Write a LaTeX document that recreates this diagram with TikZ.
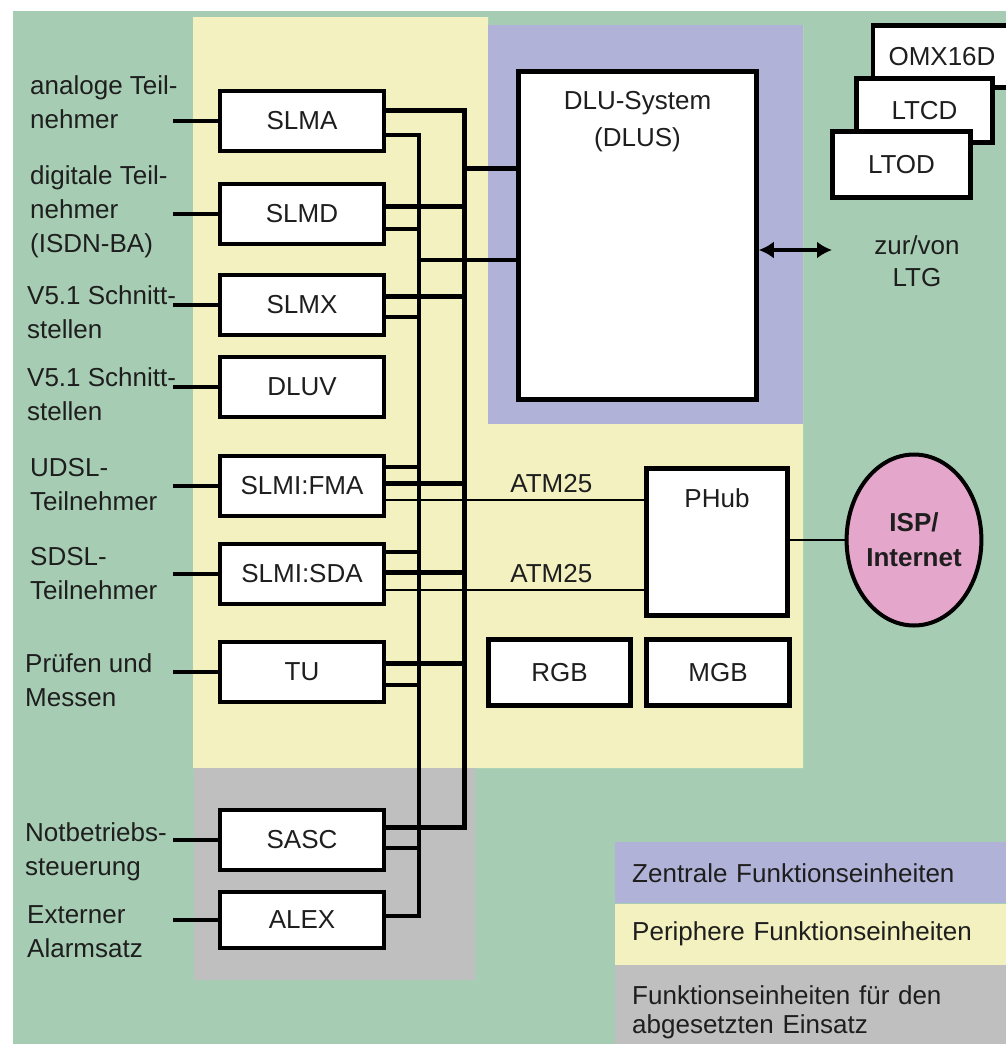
\documentclass[tikz,border=0pt]{standalone}
\usepackage{fontspec}
\setmainfont{Liberation Sans}
\usepackage{xcolor}
\usepackage{tikz}
\usetikzlibrary{arrows.meta,positioning,calc,shapes.geometric}
\definecolor{Field}{HTML}{A6CDB3}
\definecolor{Zentral}{HTML}{B1B2D8}
\definecolor{Periph}{HTML}{F2F1BF}
\definecolor{Remote}{HTML}{BFBFBF}
\definecolor{Isp}{HTML}{E5A6CB}
\definecolor{Ink}{HTML}{1E1E1E}
\tikzset{
  unit/.style={
    draw=black, line width=4.5pt, fill=white, minimum width=164pt,
    minimum height=60pt, inner sep=0pt, text=Ink,
    font=\fontsize{26}{30}\selectfont
  },
  head/.style={anchor=north, inner sep=0pt, yshift=-22pt, align=center,
    text=Ink, font=\fontsize{26}{37}\selectfont},
  side/.style={anchor=base west, align=left, inner sep=0pt, text=Ink,
    font=\fontsize{26}{34}\selectfont},
  tag/.style={inner sep=0pt, text=Ink, font=\fontsize{26}{30}\selectfont},
  legend/.style={
    anchor=north west, minimum height=61pt, text width=357pt,
    inner xsep=17pt, inner ysep=0pt, align=left, text=Ink,
    font=\fontsize{26}{29}\selectfont
  },
  busThick/.style={line width=5pt,draw=black},
  busThin/.style={line width=3.5pt,draw=black},
  feed/.style={line width=3.5pt,draw=black},
  atm/.style={line width=2.5pt,draw=black},
  link/.style={{Latex[length=15pt,width=17pt]}-{Latex[length=15pt,width=17pt]},
    line width=3.5pt,draw=black}
}

\begin{document}
\begin{tikzpicture}[x=1pt,y=-1pt]
  \useasboundingbox (0,0) rectangle (1006,1044);
  % areas
  \fill[Field] (13,11) rectangle (1006,1044);
  \fill[Periph] (193,17) -- (488,17) -- (488,25) -- (803,25) -- (803,768) -- (193,768) -- cycle;
  \fill[Zentral] (488,25) rectangle (803,424);
  \fill[Remote] (194,768) rectangle (475,980);

  % legend
  \node[legend,fill=Zentral] (lgZ) at (615,842) {Zentrale Funktionseinheiten};
  \node[legend,fill=Periph,below=0pt of lgZ] (lgP) {Periphere Funktionseinheiten};
  \node[legend,fill=Remote,minimum height=95pt,below=0pt of lgP] (lgR) {Funktionseinheiten für den\\abgesetzten Einsatz};

  % line units
  \node[unit] (slma) at (302,121) {SLMA};
  \node[unit] (slmd) at (302,214) {SLMD};
  \node[unit] (slmx) at (302,305) {SLMX};
  \node[unit] (dluv) at (302,387) {DLUV};
  \node[unit] (fma) at (302,486) {SLMI:FMA};
  \node[unit] (sda) at (302,574) {SLMI:SDA};
  \node[unit] (tu) at (302,672) {TU};
  \node[unit] (sasc) at (302,840) {SASC};
  \node[unit,minimum height=56pt] (alex) at (302,920) {ALEX};

  % subscribers (base = last line)
  \node[side] (lblA) at (30,128) {analoge Teil-\\nehmer};
  \node[side] (lblD) at (30,252) {digitale Teil-\\nehmer\\(ISDN-BA)};
  \node[side] (lblX) at (27,338) {V5.1 Schnitt-\\stellen};
  \node[side] (lblV) at (27,420) {V5.1 Schnitt-\\stellen};
  \node[side] (lblF) at (30,510) {UDSL-\\Teilnehmer};
  \node[side] (lblS) at (30,599) {SDSL-\\Teilnehmer};
  \node[side] (lblT) at (25,706) {Prüfen und\\Messen};
  \node[side] (lblN) at (25,875) {Notbetriebs-\\steuerung};
  \node[side] (lblE) at (27,957) {Externer\\Alarmsatz};

  \coordinate (inX) at (173,0);
  \foreach \n in {slma,slmd,slmx,dluv,fma,sda,tu,sasc,alex}
    \draw[feed] (\n.west -| inX) -- (\n.west);

  % central part
  \node[unit,minimum width=238pt,minimum height=328pt,
    label={[head,name=dlusTxt]north:{DLU-System\\(DLUS)}}] (dlus) at (637.5,235.5) {};
  \node[unit,minimum width=141pt,minimum height=147pt,
    label={[head,name=phubTxt]north:PHub}] (phub) at (717,542) {};
  \node[unit,minimum width=142pt,minimum height=66pt] (rgb) at (559.5,672.5) {RGB};
  \node[unit,minimum width=143pt,minimum height=66pt] (mgb) at (718,672.5) {MGB};

  % line trunk groups
  \node[unit,minimum width=138pt,minimum height=62pt] (omx) at (942,56.5) {OMX16D};
  \node[unit,minimum width=136pt,minimum height=64pt] (ltcd) at (924.5,110.5) {LTCD};
  \node[unit,minimum width=138pt,minimum height=66pt] (ltod) at (901.5,164.5) {LTOD};

  \node[draw=black,line width=4pt,fill=Isp,ellipse,minimum width=114pt,
    minimum height=171pt,inner sep=0pt,align=center,text=Ink,
    font=\fontsize{26}{35}\selectfont\bfseries] (isp) at (914,540) {ISP/\\Internet};

  % buses
  \coordinate (thickTop) at (464,110);
  \coordinate (thickEnd) at (464,827);
  \coordinate (thinTop) at (419,135);
  \coordinate (thinEnd) at (419,916);
  \draw[busThin] (slma.east |- thinTop) -- (thinTop) -- (thinEnd) -- (alex.east |- thinEnd);
  \foreach \n/\y in {slmd/229,slmx/317,fma/467,sda/552,tu/685,sasc/848}
    \draw[busThin] (\n.east |- 0,\y) -- (thinTop |- 0,\y);
  \draw[busThin] (thinTop |- 0,260) -- (dlus.west |- 0,260);
  \draw[busThick] (slma.east |- thickTop) -- (thickTop) -- (thickEnd) -- (sasc.east |- thickEnd);
  \foreach \n/\y in {slmd/206,slmx/296,fma/483,sda/572,tu/663}
    \draw[busThick] (\n.east |- 0,\y) -- (thickTop |- 0,\y);
  \draw[busThick] (thickTop |- 0,168) -- (dlus.west |- 0,168);

  \draw[atm] (fma.east |- 0,500) -- node[tag,pos=.64,above=6pt] (atmF) {ATM25} (phub.west |- 0,500);
  \draw[atm] (sda.east |- 0,590) -- node[tag,pos=.64,above=6pt] (atmS) {ATM25} (phub.west |- 0,590);
  \draw[line width=2pt] (phub.east |- isp.west) -- (isp.west);

  \coordinate (ltg) at (832,250);
  \draw[link] (dlus.east |- ltg) -- (ltg);
  \node[tag,align=center,font=\fontsize{26}{32}\selectfont] (ltgTxt) at (917,261) {zur/von\\LTG};
\end{tikzpicture}
\end{document}
